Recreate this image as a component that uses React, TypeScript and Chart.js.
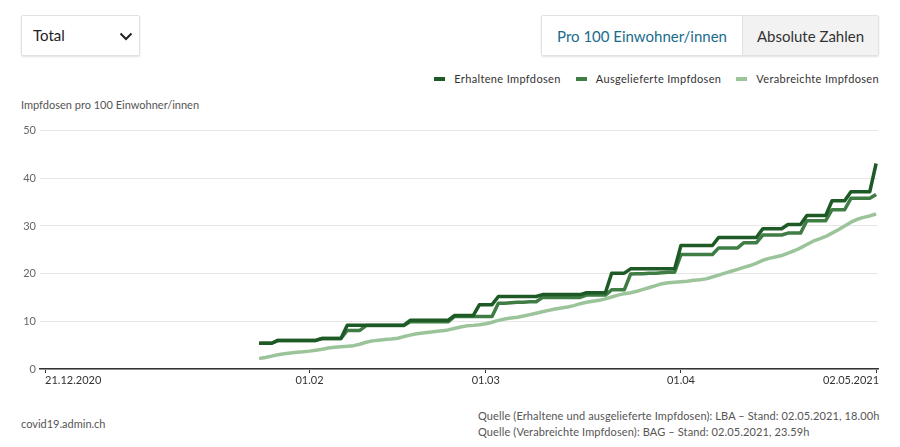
import React, { useEffect, useRef } from "react";
import { Chart, registerables } from "chart.js";
Chart.register(...registerables);

const axisStart = "2020-12-21";
const axisEnd = "2021-05-02";
const seriesStart = "2021-01-24";
const tickDates = ["2020-12-21", "2021-02-01", "2021-03-01", "2021-04-01", "2021-05-02"];
const tickLabels = ["21.12.2020", "01.02", "01.03", "01.04", "02.05.2021"];
const seriesNames = ["Erhaltene Impfdosen", "Ausgelieferte Impfdosen", "Verabreichte Impfdosen"];
const seriesColors = ["#1e5a26", "#3f7d45", "#9cc49a"];
const yTicks = [0, 10, 20, 30, 40, 50];

// daily values from 24.01.2021 to 02.05.2021
const erhaltene = [
  5.4, 5.4, 5.4,
  6.0, 6.0, 6.0, 6.0, 6.0, 6.0, 6.0,
  6.4, 6.4, 6.4, 6.4,
  9.2, 9.2, 9.2, 9.2, 9.2, 9.2, 9.2, 9.2, 9.2, 9.2,
  10.2, 10.2, 10.2, 10.2, 10.2, 10.2, 10.2,
  11.2, 11.2, 11.2, 11.2,
  13.5, 13.5, 13.5,
  15.2, 15.2, 15.2, 15.2, 15.2, 15.2, 15.2,
  15.6, 15.6, 15.6, 15.6, 15.6, 15.6, 15.6,
  16.0, 16.0, 16.0, 16.0,
  20.1, 20.1, 20.1,
  21.0, 21.0, 21.0, 21.0, 21.0, 21.0, 21.0, 21.0,
  25.9, 25.9, 25.9, 25.9, 25.9, 25.9,
  27.6, 27.6, 27.6, 27.6, 27.6, 27.6, 27.6,
  29.4, 29.4, 29.4, 29.4,
  30.3, 30.3, 30.3,
  32.2, 32.2, 32.2, 32.2,
  35.3, 35.3, 35.3,
  37.2, 37.2, 37.2, 37.2,
  43.1,
];

const ausgelieferte = [
  5.4, 5.4, 5.4,
  6.0, 6.0, 6.0, 6.0, 6.0, 6.0, 6.0,
  6.4, 6.4, 6.4, 6.4,
  8.1, 8.1, 8.1,
  9.1, 9.1, 9.1, 9.1, 9.1, 9.1, 9.1,
  9.9, 9.9, 9.9, 9.9, 9.9, 9.9, 9.9,
  11.0, 11.0, 11.0, 11.0, 11.0, 11.0, 11.0,
  13.8, 13.8, 13.9, 14.0, 14.0, 14.1, 14.1,
  15.0, 15.0, 15.0, 15.0, 15.0, 15.0, 15.0,
  15.5, 15.5, 15.5, 15.5,
  16.6, 16.6, 16.6,
  19.9, 20.0, 20.0, 20.1, 20.1, 20.2, 20.3, 20.3,
  24.0, 24.0, 24.0, 24.0, 24.0, 24.0,
  25.4, 25.4, 25.4, 25.4,
  26.5, 26.5, 26.5,
  28.1, 28.1, 28.1, 28.1,
  28.5, 28.5, 28.5,
  31.1, 31.1, 31.1, 31.1,
  33.4, 33.4, 33.4,
  35.8, 35.8, 35.8, 35.8,
  36.6,
];

const verabreichte = [
  2.2, 2.4, 2.7, 3.0, 3.2, 3.35, 3.5, 3.6, 3.75, 3.95,
  4.15, 4.4, 4.55, 4.65, 4.75, 4.9, 5.2, 5.6, 5.9, 6.05,
  6.2, 6.3, 6.45, 6.8, 7.1, 7.4, 7.55, 7.7, 7.85, 8.0,
  8.2, 8.5, 8.8, 9.05, 9.15, 9.3, 9.5, 9.8, 10.2, 10.5,
  10.7, 10.85, 11.1, 11.4, 11.7, 12.0, 12.3, 12.6, 12.8, 13.0,
  13.3, 13.7, 14.0, 14.2, 14.4, 14.7, 15.1, 15.5, 15.8, 16.0,
  16.3, 16.7, 17.1, 17.5, 17.9, 18.1, 18.2, 18.3, 18.4, 18.6,
  18.7, 18.9, 19.3, 19.7, 20.1, 20.5, 20.9, 21.3, 21.7, 22.2,
  22.8, 23.2, 23.5, 23.8, 24.3, 24.8, 25.4, 26.1, 26.8, 27.3,
  27.8, 28.5, 29.2, 30.0, 30.8, 31.4, 31.8, 32.1, 32.5,
];

const DAY = 86400000;
const dayOf = (s: string) => Math.round((Date.parse(s) - Date.parse(axisStart)) / DAY);

const FONT = "Lato, 'Noto Sans', sans-serif";

const xLabelPlugin = {
  id: "xLabels",
  afterDraw(chart: any) {
    const { ctx } = chart;
    const xs = chart.scales.x;
    const bottom = chart.chartArea.bottom;
    ctx.save();
    ctx.font = `11px ${FONT}`;
    ctx.fillStyle = "#333";
    ctx.textBaseline = "middle";
    tickDates.forEach((d, i) => {
      const px = xs.getPixelForValue(dayOf(d));
      ctx.textAlign = i === 0 ? "left" : i === tickDates.length - 1 ? "right" : "center";
      const off = i === tickDates.length - 1 ? 3 : 0;
      ctx.fillText(tickLabels[i], px + off, bottom + 11);
    });
    ctx.restore();
  },
};

export default function App() {
  const ref = useRef<HTMLCanvasElement>(null);
  useEffect(() => {
    if (!ref.current) return;
    const s0 = dayOf(seriesStart);
    const toPts = (arr: number[]) => arr.map((v, i) => ({ x: s0 + i, y: v }));
    const all = [erhaltene, ausgelieferte, verabreichte];
    const chart = new Chart(ref.current, {
      type: "line",
      data: {
        datasets: all.map((arr, i) => ({
          label: seriesNames[i],
          data: toPts(arr),
          borderColor: seriesColors[i],
          backgroundColor: seriesColors[i],
          borderWidth: 3.5,
          pointRadius: 0,
          tension: 0,
          borderJoinStyle: "round" as const,
        })),
      },
      options: {
        animation: false,
        responsive: false,
        maintainAspectRatio: false,
        layout: { padding: { top: 10, right: 22, left: 0, bottom: 0 } },
        plugins: { legend: { display: false }, tooltip: { enabled: false } },
        scales: {
          x: {
            type: "linear",
            min: dayOf(axisStart) - 0.8,
            max: dayOf(axisEnd) + 0.3,
            afterBuildTicks: (scale: any) => {
              scale.ticks = tickDates.map((d) => ({ value: dayOf(d) }));
            },
            afterFit: (scale: any) => {
              scale.height = 31;
            },
            ticks: { display: false },
            grid: { drawOnChartArea: false, drawTicks: true, tickLength: 4, color: "#333" },
            border: { display: true, color: "#333", width: 1.5 },
          },
          y: {
            min: 0,
            max: 50,
            afterBuildTicks: (scale: any) => {
              scale.ticks = yTicks.map((v) => ({ value: v }));
            },
            afterFit: (scale: any) => {
              scale.width = 40;
            },
            ticks: { color: "#666", font: { size: 11, family: FONT }, padding: 4 },
            grid: { color: "#e6e6e6", drawTicks: false },
            border: { display: false },
          },
        },
      },
      plugins: [xLabelPlugin],
    });
    return () => chart.destroy();
  }, []);

  const small: React.CSSProperties = { fontFamily: FONT, fontSize: 11, color: "#555", position: "absolute", whiteSpace: "nowrap" };

  return (
    <div style={{ position: "relative", width: 900, height: 447, background: "#fff", fontFamily: FONT }}>
      <style>{`body{margin:0}`}</style>
      {/* dropdown */}
      <div style={{ position: "absolute", left: 21, top: 15, width: 117, height: 39, border: "1px solid #e2e2e2", borderRadius: 2, boxShadow: "0 1px 2px rgba(0,0,0,0.12)", background: "#fff" }}>
        <span style={{ position: "absolute", left: 11, top: 10, fontSize: 15, color: "#222" }}>Total</span>
        <svg style={{ position: "absolute", left: 97, top: 16 }} width="14" height="9" viewBox="0 0 14 9">
          <polyline points="1.5,1.5 7,7 12.5,1.5" fill="none" stroke="#222" strokeWidth="2" />
        </svg>
      </div>
      {/* toggle */}
      <div style={{ position: "absolute", left: 541, top: 15, width: 336, height: 39, border: "1px solid #e2e2e2", borderRadius: 2, boxShadow: "0 1px 2px rgba(0,0,0,0.12)", display: "flex", overflow: "hidden" }}>
        <div style={{ width: 200, background: "#fff", color: "#1a6b8c", fontSize: 15, display: "flex", alignItems: "center", justifyContent: "center", borderRight: "1px solid #e2e2e2" }}>Pro 100 Einwohner/innen</div>
        <div style={{ flex: 1, background: "#f2f2f2", color: "#333", fontSize: 15, display: "flex", alignItems: "center", justifyContent: "center" }}>Absolute Zahlen</div>
      </div>
      {/* legend */}
      <div style={{ position: "absolute", right: 21, top: 72, display: "flex", alignItems: "center", fontSize: 11, color: "#333", whiteSpace: "nowrap" }}>
        {seriesNames.map((n, i) => (
          <div key={n} style={{ display: "flex", alignItems: "center", marginLeft: i === 0 ? 0 : 15 }}>
            <span style={{ display: "inline-block", width: 11, height: 4, background: seriesColors[i], marginRight: 9 }} />
            <span style={{ letterSpacing: 0.35 }}>{n}</span>
          </div>
        ))}
      </div>
      {/* y title */}
      <div style={{ ...small, left: 21, top: 98, color: "#555" }}>Impfdosen pro 100 Einwohner/innen</div>
      <canvas ref={ref} width={900} height={280} style={{ position: "absolute", left: 0, top: 120, width: 900, height: 280 }} />
      {/* footer */}
      <div style={{ ...small, left: 21, top: 417 }}>covid19.admin.ch</div>
      <div style={{ ...small, left: 478, top: 408, lineHeight: "16px", letterSpacing: 0.12 }}>
        <div>Quelle (Erhaltene und ausgelieferte Impfdosen): LBA – Stand: 02.05.2021, 18.00h</div>
        <div>Quelle (Verabreichte Impfdosen): BAG – Stand: 02.05.2021, 23.59h</div>
      </div>
    </div>
  );
}
